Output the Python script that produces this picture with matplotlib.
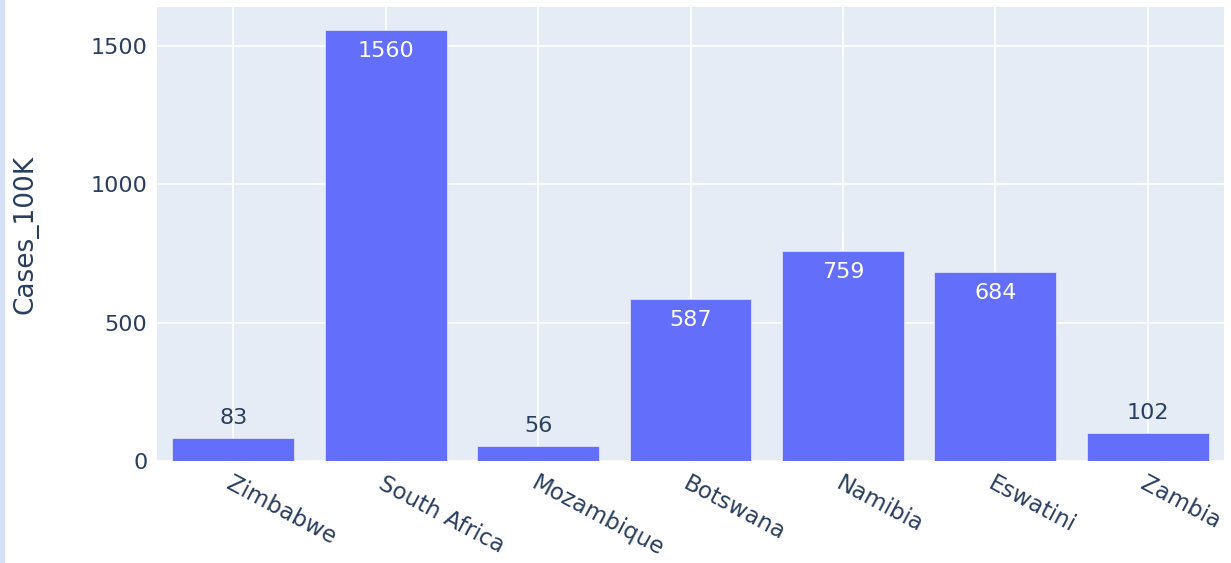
import matplotlib.pyplot as plt
import matplotlib.patches as mpatches

countries = ["Zimbabwe", "South Africa", "Mozambique", "Botswana", "Namibia", "Eswatini", "Zambia"]
cases_100k = [83, 1560, 56, 587, 759, 684, 102]
y_ticks = [0, 500, 1000, 1500]

txt_color = "#2a3f5f"
bar_color = "#636efa"

plt.rcParams['font.family'] = ['DejaVu Sans']

fig = plt.figure(figsize=(12.31, 5.63), dpi=100)
ax = fig.add_axes([157 / 1231, 1 - 461 / 563, (1224 - 157) / 1231, (461 - 7) / 563])
ax.set_facecolor("#e5ecf6")

# thin light strip on the far left edge
fig.patches.append(mpatches.Rectangle((0, 0), 4 / 1231, 1, transform=fig.transFigure,
                                      color="#d6e0f5", zorder=0))

x = list(range(len(countries)))
bars = ax.bar(x, cases_100k, width=0.8, color=bar_color, edgecolor="#e5ecf6",
              linewidth=0.5, zorder=3)

ymax = max(cases_100k) * 1.0525
ax.set_ylim(0, ymax)
ax.set_xlim(-0.5, len(countries) - 0.5)

# value labels: inside (white) if bar tall enough, else above
for xi, v in zip(x, cases_100k):
    if v > 300:
        ax.annotate(str(v), (xi, v), xytext=(0, -8), textcoords="offset points",
                    ha="center", va="top", color="white", fontsize=16, zorder=4)
    else:
        ax.annotate(str(v), (xi, v), xytext=(0, 7), textcoords="offset points",
                    ha="center", va="bottom", color=txt_color, fontsize=16, zorder=4)

ax.set_yticks(y_ticks)
ax.set_yticklabels([str(t) for t in y_ticks], fontsize=16, color=txt_color)
ax.set_xticks(x)
ax.set_xticklabels(countries, rotation=-28, ha="left", va="top",
                   rotation_mode="anchor", fontsize=16.5, color=txt_color)
ax.tick_params(axis="both", length=0)
ax.tick_params(axis="y", pad=7)
ax.tick_params(axis="x", pad=8)

ax.grid(True, color="white", linewidth=1.2, zorder=0)
ax.set_axisbelow(True)
for s in ax.spines.values():
    s.set_visible(False)

fig.text(26 / 1231, 1 - 234 / 563, "Cases_100K", rotation=90, ha="center", va="center",
         fontsize=19, color=txt_color)

fig.savefig("out.png", dpi=100)
